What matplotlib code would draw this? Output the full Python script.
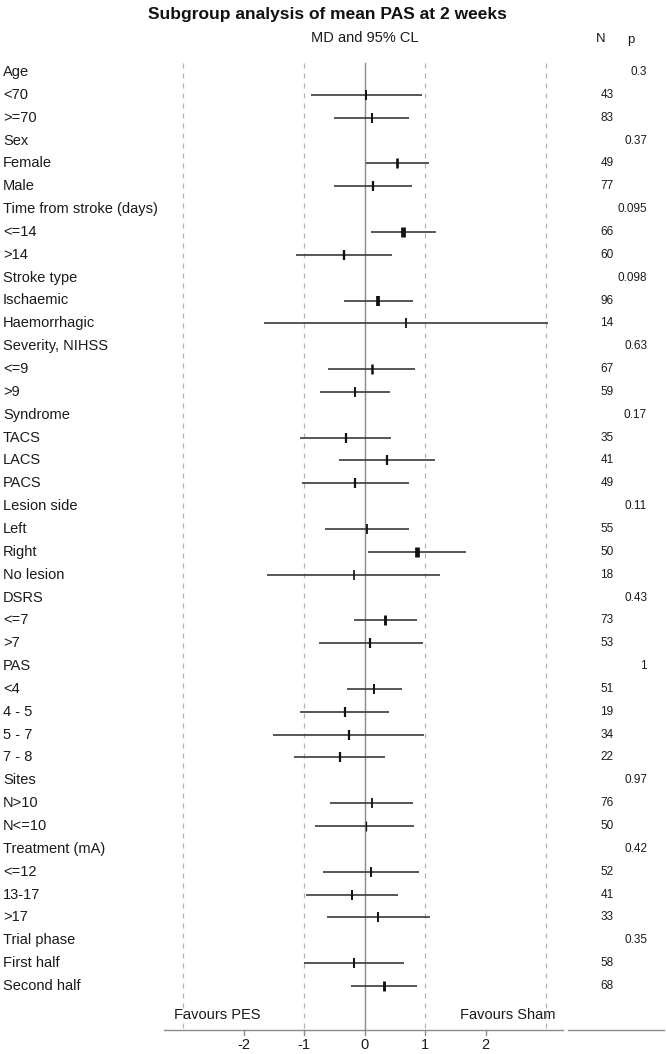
import matplotlib
matplotlib.use("Agg")
import matplotlib.pyplot as plt

plt.rcParams['font.family'] = ['Liberation Sans', 'DejaVu Sans']

# ---- data ----
labels = ["Age", "<70", ">=70",
          "Sex", "Female", "Male",
          "Time from stroke (days)", "<=14", ">14",
          "Stroke type", "Ischaemic", "Haemorrhagic",
          "Severity, NIHSS", "<=9", ">9",
          "Syndrome", "TACS", "LACS", "PACS",
          "Lesion side", "Left", "Right", "No lesion",
          "DSRS", "<=7", ">7",
          "PAS", "<4", "4 - 5", "5 - 7", "7 - 8",
          "Sites", "N>10", "N<=10",
          "Treatment (mA)", "<=12", "13-17", ">17",
          "Trial phase", "First half", "Second half"]
p_values = ["0.3", None, None,
            "0.37", None, None,
            "0.095", None, None,
            "0.098", None, None,
            "0.63", None, None,
            "0.17", None, None, None,
            "0.11", None, None, None,
            "0.43", None, None,
            "1", None, None, None, None,
            "0.97", None, None,
            "0.42", None, None, None,
            "0.35", None, None]
n_values = [None, 43, 83,
            None, 49, 77,
            None, 66, 60,
            None, 96, 14,
            None, 67, 59,
            None, 35, 41, 49,
            None, 55, 50, 18,
            None, 73, 53,
            None, 51, 19, 34, 22,
            None, 76, 50,
            None, 52, 41, 33,
            None, 58, 68]
md = [None, 0.02, 0.12,
      None, 0.54, 0.135,
      None, 0.64, -0.34,
      None, 0.23, 0.69,
      None, 0.124, -0.16,
      None, -0.31, 0.37, -0.15,
      None, 0.04, 0.86, -0.18,
      None, 0.345, 0.085,
      None, 0.16, -0.33, -0.26, -0.40,
      None, 0.12, 0.02,
      None, 0.10, -0.20, 0.22,
      None, -0.17, 0.32]
ci_low = [None, -0.88, -0.50,
          None, 0.025, -0.50,
          None, 0.10, -1.14,
          None, -0.34, -1.66,
          None, -0.60, -0.74,
          None, -1.06, -0.42, -1.04,
          None, -0.66, 0.05, -1.61,
          None, -0.18, -0.76,
          None, -0.29, -1.06, -1.52, -1.165,
          None, -0.565, -0.81,
          None, -0.685, -0.97, -0.625,
          None, -1.0, -0.22]
ci_high = [None, 0.945, 0.74,
           None, 1.06, 0.785,
           None, 1.18, 0.46,
           None, 0.80, 3.04,
           None, 0.84, 0.415,
           None, 0.43, 1.165, 0.735,
           None, 0.735, 1.68, 1.24,
           None, 0.86, 0.96,
           None, 0.625, 0.40, 0.98, 0.34,
           None, 0.80, 0.82,
           None, 0.90, 0.56, 1.09,
           None, 0.66, 0.86]
x_ticks = [-2, -1, 0, 1, 2]
dashed_x = [-3, -1, 1, 3]

# marker stroke weights (style)
marker_w = [0, 1.4, 1.4,
            0, 1.9, 1.6,
            0, 3.4, 1.7,
            0, 2.7, 1.3,
            0, 1.8, 1.4,
            0, 1.6, 1.6, 1.6,
            0, 1.3, 3.4, 1.2,
            0, 2.1, 1.6,
            0, 1.4, 1.6, 1.6, 1.6,
            0, 1.3, 0.9,
            0, 1.4, 1.4, 1.4,
            0, 1.4, 2.1]

# ---- layout ----
W, H = 666, 1054
x0_px, unit_px = 364.5, 60.5
row0_px, row_px = 72.0, 22.85

fig = plt.figure(figsize=(W / 100, H / 100), dpi=100)
ax = fig.add_axes([0, 0, 1, 1])
ax.set_xlim(-x0_px / unit_px, (W - x0_px) / unit_px)
ax.set_ylim((H - row0_px) / row_px, -row0_px / row_px)
ax.axis('off')

def py(pix):
    return (pix - row0_px) / row_px

def px(pix):
    return (pix - x0_px) / unit_px

top_y = py(63)
axis_y = py(1030)

for xv in dashed_x:
    ax.plot([xv, xv], [top_y, axis_y], color='#b4b4b4', lw=0.9,
            ls=(0, (4, 4)), zorder=1)
ax.plot([0, 0], [top_y, axis_y], color='#8a8a8a', lw=1.0, zorder=2)

text_col = '#1a1a1a'
for i, lab in enumerate(labels):
    ax.text(px(3), i, lab, fontsize=10.5, ha='left', va='center', color=text_col)
    if p_values[i] is not None:
        ax.text(px(647), i, p_values[i], fontsize=8.5, ha='right', va='center',
                color=text_col)
    if n_values[i] is not None:
        ax.text(px(607), i, str(n_values[i]), fontsize=8.5, ha='center',
                va='center', color=text_col)
    if md[i] is not None:
        ax.plot([ci_low[i], ci_high[i]], [i, i], color='#3a3a3a', lw=1.2,
                solid_capstyle='butt', zorder=3)
        ax.plot([md[i]], [i], marker='|', markersize=7.5, color='#111111',
                markeredgewidth=marker_w[i], zorder=4)

# headers
ax.text(px(327), py(14), "Subgroup analysis of mean PAS at 2 weeks",
        fontsize=12.5, fontweight='bold', ha='center', va='center', color='#111111')
ax.text(0, py(38), "MD and 95% CL", fontsize=10.5, ha='center', va='center',
        color=text_col)
ax.text(px(601), py(39), "N", fontsize=9.5, ha='center', va='center', color=text_col)
ax.text(px(631), py(40), "p", fontsize=9.5, ha='center', va='center', color=text_col)

# bottom axis
ax.plot([px(164), px(563)], [axis_y, axis_y], color='#8a8a8a', lw=1.0)
ax.plot([px(568), px(664)], [axis_y, axis_y], color='#8a8a8a', lw=1.0)
for t in x_ticks:
    ax.plot([t, t], [axis_y, axis_y + 0.22], color='#8a8a8a', lw=1.0)
    ax.text(t, py(1045), str(t), fontsize=10.5, ha='center', va='center',
            color=text_col)

ax.text(px(174), py(1015), "Favours PES", fontsize=10.5, ha='left', va='center',
        color=text_col)
ax.text(px(555), py(1015), "Favours Sham", fontsize=10.5, ha='right', va='center',
        color=text_col)

fig.savefig("out.png", dpi=100)
